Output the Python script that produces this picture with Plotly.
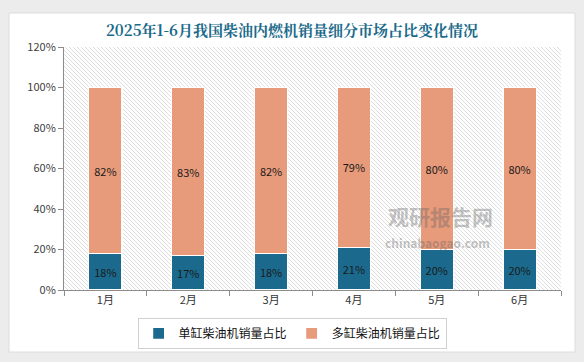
import base64
import plotly.graph_objects as go

months = ["1月", "2月", "3月", "4月", "5月", "6月"]
single_cyl = [18, 17, 18, 21, 20, 20]
multi_cyl = [82, 83, 82, 79, 80, 80]
series_names = ["单缸柴油机销量占比", "多缸柴油机销量占比"]
y_ticks = [0, 20, 40, 60, 80, 100, 120]
title_text = "2025年1-6月我国柴油内燃机销量细分市场占比变化情况"

FONT = "Noto Sans CJK SC, Microsoft YaHei, sans-serif"

# hatch pattern image for plot-area background
W, H = 497, 243
lines = []
step = 4
for k in range(-H, W + H, step):
    lines.append(f'<line x1="{k}" y1="0" x2="{k + H}" y2="{H}"/>')
svg = (
    f'<svg xmlns="http://www.w3.org/2000/svg" width="{W}" height="{H}" viewBox="0 0 {W} {H}">'
    f'<rect width="{W}" height="{H}" fill="white"/>'
    f'<g stroke="#dedede" stroke-width="1">' + "".join(lines) + '</g></svg>'
)
svg_uri = "data:image/svg+xml;base64," + base64.b64encode(svg.encode()).decode()

fig = go.Figure()

fig.add_trace(go.Bar(
    x=months, y=single_cyl, name=series_names[0],
    marker=dict(color="#1B6A8E", line=dict(color="white", width=1.2)),
    text=[f"{v}%" for v in single_cyl], textposition="inside", insidetextanchor="middle",
    textfont=dict(size=11, color="#1a1a1a", family=FONT),
))
fig.add_trace(go.Bar(
    x=months, y=multi_cyl, name=series_names[1],
    marker=dict(color="#E89B7B", line=dict(color="white", width=1.2)),
    text=[f"{v}%" for v in multi_cyl], textposition="inside", insidetextanchor="middle",
    textfont=dict(size=11, color="#1a1a1a", family=FONT),
))

# gray surround outside the white card (card: x 9..575 px, y 13..352 px)
def px_x(p):
    return (p - 64) / 497
def px_y(p):
    return (290 - p) / 243

gray = "#ececec"
for x0, x1, y0, y1 in [
    (0, 584, 0, 13), (0, 584, 352, 362), (0, 9, 0, 362), (575, 584, 0, 362)
]:
    fig.add_shape(type="rect", xref="paper", yref="paper",
                  x0=px_x(x0), x1=px_x(x1), y0=px_y(y1), y1=px_y(y0),
                  fillcolor=gray, line=dict(width=0), layer="above")
fig.add_shape(type="rect", xref="paper", yref="paper",
              x0=px_x(9), x1=px_x(575), y0=px_y(352), y1=px_y(13),
              fillcolor="rgba(0,0,0,0)", line=dict(color="#dcdcdc", width=1), layer="above")

fig.add_layout_image(source=svg_uri, xref="paper", yref="paper", x=0, y=1,
                     sizex=1, sizey=1, sizing="stretch", xanchor="left", yanchor="top",
                     layer="below")

# watermark
fig.add_annotation(text="观研报告网", xref="paper", yref="paper", x=0.867, y=0.235,
                   showarrow=False, font=dict(size=21, color="rgba(100,100,100,0.4)", family=FONT, weight="bold"))
fig.add_annotation(text="chinabaogao.com", xref="paper", yref="paper", x=0.861, y=0.152,
                   showarrow=False, font=dict(size=12, color="rgba(100,100,100,0.4)", family=FONT, weight="bold"))

fig.update_layout(
    width=584, height=362,
    margin=dict(l=64, r=23, t=47, b=72),
    paper_bgcolor="white", plot_bgcolor="rgba(0,0,0,0)",
    barmode="stack", bargap=0.6,
    title=dict(text=title_text, x=0.5, xanchor="center", y=0.915, yanchor="middle",
               font=dict(size=15, color="#1A6A8A", family="Noto Serif CJK SC, Noto Sans CJK SC, serif", weight="bold")),
    font=dict(family=FONT, size=11, color="#404040"),
    xaxis=dict(showline=True, linecolor="#8c8c8c", linewidth=1, ticks="outside", tickson="boundaries",
               ticklen=5, tickcolor="#8c8c8c", showgrid=False, tickfont=dict(size=11, color="#333333")),
    yaxis=dict(range=[0, 120], tickvals=y_ticks, ticktext=[f"{v}%" for v in y_ticks],
               showline=True, linecolor="#8c8c8c", linewidth=1, ticks="outside", ticklen=5,
               tickcolor="#8c8c8c", showgrid=False, zeroline=False,
               tickfont=dict(size=11, color="#404040")),
    legend=dict(orientation="h", x=0.459, xanchor="center", y=-0.115, yanchor="top",
                bordercolor="#d0d0d0", borderwidth=1, bgcolor="white",
                font=dict(size=12, color="#111111", family=FONT), itemwidth=30,
                tracegroupgap=0, traceorder="normal"),
    showlegend=True,
)

fig.write_html("out.html", config={"displayModeBar": False},
               post_script="document.body.style.margin='0';")
